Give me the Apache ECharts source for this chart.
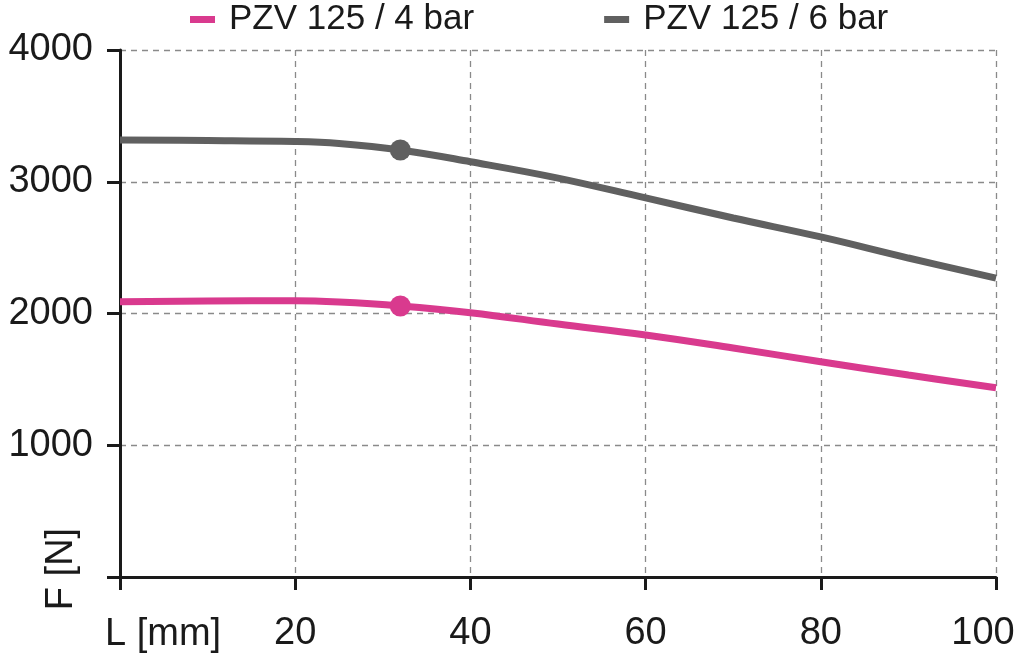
<!DOCTYPE html>
<html>
<head>
<meta charset="utf-8">
<script src="https://cdn.jsdelivr.net/npm/echarts@6/dist/echarts.min.js"></script>
<style>html,body{margin:0;padding:0;background:#fff;}#c{width:1024px;height:655px;}</style>
</head>
<body>
<div id="c"></div>
<script>
var seriesNames = ['PZV 125 / 4 bar', 'PZV 125 / 6 bar'];
var strokeL = [0, 10, 20, 25, 32, 40, 50, 60, 70, 80, 90, 100];
var force4bar = [2090, 2095, 2097, 2087, 2057, 2006, 1920, 1837, 1738, 1634, 1533, 1437];
var force6bar = [3317, 3313, 3305, 3290, 3241, 3152, 3028, 2877, 2725, 2581, 2421, 2269];
var markerL = 32;
var marker4bar = 2057;
var marker6bar = 3241;
var xTicks = [0, 20, 40, 60, 80, 100];
var yTicks = [0, 1000, 2000, 3000, 4000];

var FONT = 'Liberation Sans';
var INK = '#1a1a1a';
var PINK = '#d93a8e';
var GRAY = '#606060';

function pairs(xs, ys) { return xs.map(function (x, i) { return [x, ys[i]]; }); }

var xMax = xTicks[xTicks.length - 1];

var chart = echarts.init(document.getElementById('c'), null, { renderer: 'canvas' });
chart.setOption({
  backgroundColor: '#ffffff',
  animation: false,
  legend: {
    data: seriesNames,
    left: 190,
    top: 2,
    padding: 0,
    icon: 'rect',
    itemWidth: 25,
    itemHeight: 7,
    itemGap: 130,
    textStyle: { fontFamily: FONT, fontSize: 35, color: INK, padding: [0, 0, 0, 9] }
  },
  grid: { left: 120, right: 28, top: 50, bottom: 78, containLabel: false, outerBoundsMode: 'none' },
  xAxis: {
    type: 'value',
    min: xTicks[0],
    max: xMax,
    interval: 20,
    axisLine: { show: true, onZero: false, lineStyle: { color: INK, width: 3 } },
    axisTick: { show: true, length: 13, lineStyle: { color: INK, width: 3 } },
    axisLabel: {
      margin: 38, fontFamily: FONT, fontSize: 38, color: INK,
      formatter: function (v) {
        if (v === 0) return '';
        if (v === xMax) return '{last|' + v + '}';
        return String(v);
      },
      rich: { last: { fontFamily: FONT, fontSize: 38, color: INK, padding: [0, 26, 0, 0] } }
    },
    splitLine: { show: true, lineStyle: { color: '#8a8a8a', width: 1.3, type: [6, 5] } }
  },
  yAxis: {
    type: 'value',
    min: yTicks[0],
    max: yTicks[yTicks.length - 1],
    interval: 1000,
    axisLine: { show: true, onZero: false, lineStyle: { color: INK, width: 3 } },
    axisTick: { show: true, length: 13, lineStyle: { color: INK, width: 3 } },
    axisLabel: {
      margin: 27, fontFamily: FONT, fontSize: 38, color: INK,
      formatter: function (v) { return v === 0 ? '' : String(v); }
    },
    splitLine: { show: true, lineStyle: { color: '#8a8a8a', width: 1.3, type: [6, 5] } }
  },
  graphic: [
    { type: 'text', left: 105, top: 616, style: { text: 'L [mm]', font: '38px "' + FONT + '"', fill: INK } },
    { type: 'text', x: 62, y: 569, rotation: Math.PI / 2,
      style: { text: 'F [N]', font: '38px "' + FONT + '"', fill: INK, align: 'center', verticalAlign: 'middle' } }
  ],
  series: [
    {
      name: seriesNames[0], type: 'line', smooth: 0.4, showSymbol: false, symbol: 'none',
      data: pairs(strokeL, force4bar), z: 3,
      itemStyle: { color: PINK }, lineStyle: { color: PINK, width: 7 }
    },
    {
      name: seriesNames[1], type: 'line', smooth: 0.4, showSymbol: false, symbol: 'none',
      data: pairs(strokeL, force6bar), z: 3,
      itemStyle: { color: GRAY }, lineStyle: { color: GRAY, width: 7 }
    },
    {
      name: 'marker4', type: 'scatter', symbol: 'circle', symbolSize: 21, z: 4,
      data: [[markerL, marker4bar]], itemStyle: { color: PINK, opacity: 1 }
    },
    {
      name: 'marker6', type: 'scatter', symbol: 'circle', symbolSize: 21, z: 4,
      data: [[markerL, marker6bar]], itemStyle: { color: GRAY, opacity: 1 }
    }
  ]
});
</script>
</body>
</html>
